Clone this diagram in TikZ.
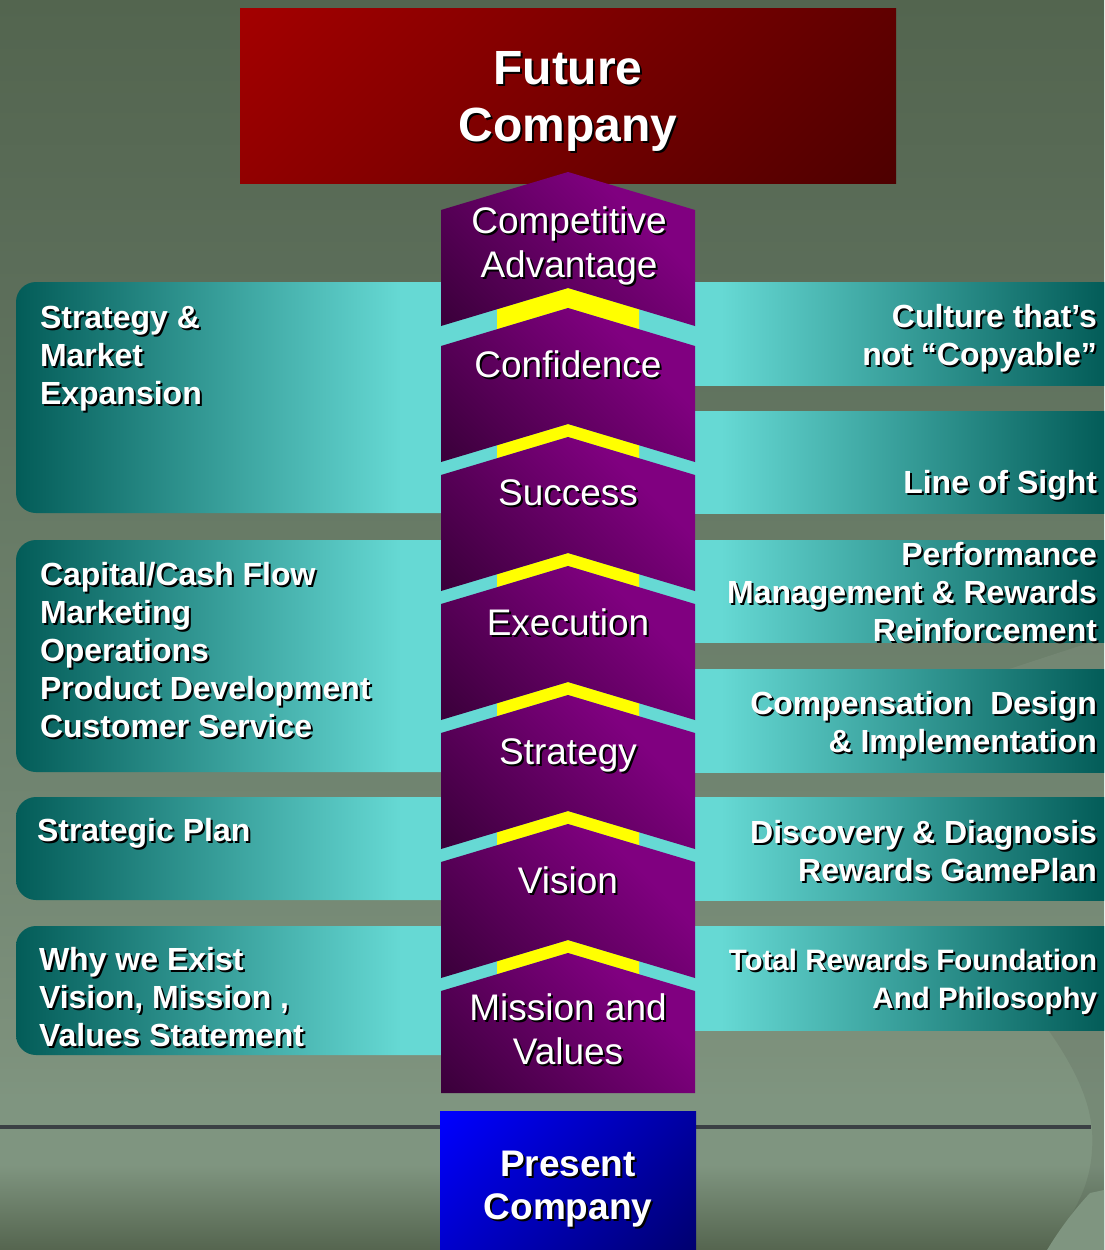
\documentclass[tikz,border=0pt]{standalone}
\usepackage{fontspec}
\setmainfont{Liberation Sans}

% palette
\definecolor{bgTop}{HTML}{53654F}
\definecolor{bgF}{HTML}{5C6E5A}
\definecolor{bgE}{HTML}{687B66}
\definecolor{bgD}{HTML}{708470}
\definecolor{bgC}{HTML}{7D917C}
\definecolor{bgLight}{HTML}{7F9580}
\definecolor{bgBot}{HTML}{55654F}
\definecolor{tealD}{HTML}{035C58}
\definecolor{tealL}{HTML}{66D9D4}
\definecolor{purD}{HTML}{3A003A}
\definecolor{purL}{HTML}{800080}
\definecolor{redD}{HTML}{4E0000}
\definecolor{redL}{HTML}{A30000}
\definecolor{bluD}{HTML}{000070}
\definecolor{bluL}{HTML}{0000FF}
\definecolor{yellowC}{HTML}{FFFF00}
\definecolor{lineC}{HTML}{3B4044}

% shadings (the path's bounding box spans 25bp..75bp)
\pgfdeclareverticalshading{bgsh}{100bp}{color(0bp)=(bgBot); color(25bp)=(bgBot); color(28.4bp)=(bgLight); color(31bp)=(bgLight); color(33bp)=(bgC); color(43.8bp)=(bgD); color(53.8bp)=(bgE); color(63.4bp)=(bgF); color(75bp)=(bgTop); color(100bp)=(bgTop)}
\pgfdeclareverticalshading{purpsh}{100bp}{color(0bp)=(purD); color(15bp)=(purD); color(68bp)=(purL); color(100bp)=(purL)}
\pgfdeclareverticalshading{redsh}{100bp}{color(0bp)=(redD); color(15bp)=(redD); color(85bp)=(redL); color(100bp)=(redL)}
\pgfdeclareverticalshading{bluesh}{100bp}{color(0bp)=(bluD); color(15bp)=(bluD); color(85bp)=(bluL); color(100bp)=(bluL)}
\pgfdeclarehorizontalshading{bandL}{100bp}{color(0bp)=(tealD); color(25bp)=(tealD); color(58bp)=(tealL); color(100bp)=(tealL)}
\pgfdeclarehorizontalshading{bandR}{100bp}{color(0bp)=(tealL); color(41bp)=(tealL); color(75bp)=(tealD); color(100bp)=(tealD)}

% white text with a black drop shadow
\newcommand\labelshadowed[4]{%
  \node[#2, text=black, xshift=2pt, yshift=-2pt] at #3 {#4};
  \node[#2, text=white] (#1) at #3 {#4};
}

\begin{document}
\begin{tikzpicture}[x=1pt, y=-1pt,
  every node/.style={inner sep=0pt, outer sep=0pt},
  bandtext/.style={font=\bfseries\fontsize{32}{38}\selectfont},
  lefttext/.style={bandtext, align=left, anchor=north west},
  righttext/.style={bandtext, align=right, anchor=north east},
  chevtext/.style={font=\fontsize{37}{44}\selectfont, align=center, anchor=north},
  leftband/.style={shade, shading=bandL, rounded corners=20pt},
  rightband/.style={shade, shading=bandR},
  block/.style={shade, shading=purpsh, shading angle=-45},
  stripe/.style={fill=yellowC}
]

% background
\path[shade, shading=bgsh] (0,0) rectangle (1104,1250);
\useasboundingbox (0,0) rectangle (1104,1250);
\clip (0,0) rectangle (1104,1250);

% background swooshes
\fill[black, opacity=0.07] (1030,1005) .. controls (1080,1070) and (1095,1110) .. (1092,1150)
  .. controls (1090,1190) and (1070,1220) .. (1047,1250) -- (1104,1250) -- (1104,1005) -- cycle;
\fill[bgLight] (1090,1193) .. controls (1072,1212) and (1058,1232) .. (1047,1250) -- (1104,1250) -- (1104,1190) -- cycle;
\fill[white, opacity=0.06] (1000,672) -- (1104,638) -- (1104,672) -- cycle;

% baseline rule
\coordinate (ruleL) at (0,1127);
\coordinate (ruleR) at (1091,1127);
\draw[lineC, line width=4pt] (ruleL) -- (ruleR);

% side bands
\foreach \t/\b in {282/513, 540/772, 797/900, 926/1055}
  \path[leftband] (16,\t) rectangle (600,\b);
\foreach \t/\b in {282/385, 411/513, 540/642, 669/772, 797/900, 926/1030}
  \path[rightband] (540,\t) rectangle (1104,\b);

% future company box
\path[shade, shading=redsh, shading angle=45] (240,8) rectangle (896,183);

% yellow joints between the chevrons
\foreach \c/\p in {288/308, 424/437, 553/566, 682/695, 811/824, 940/953}
  \fill[stripe] (497,\c+21.24) -- (568,\c) -- (639,\c+21.24) -- (639,\p+21.24) -- (568,\p) -- (497,\p+21.24) -- cycle;

% chevron stack
\foreach \p/\b in {172/326, 308/462, 437/591, 566/720, 695/849, 824/978}
  \path[block] (441,\p+38) -- (568,\p) -- (695,\p+38) -- (695,\b) -- (568,\b-38) -- (441,\b) -- cycle;
\path[block] (441,991) -- (568,953) -- (695,991) -- (695,1093) -- (441,1093) -- cycle;

% present company box
\path[shade, shading=bluesh, shading angle=45] (440,1111) rectangle (696,1250);

% titles
\labelshadowed{future}{font=\bfseries\fontsize{48}{57}\selectfont, align=center, anchor=north}{(568,51.5)}{Future\\Company}
\labelshadowed{present}{font=\bfseries\fontsize{37}{43}\selectfont, align=center, anchor=north}{(568,1151)}{Present\\Company}

% chevron labels
\labelshadowed{tCA}{chevtext}{(569,206.6)}{Competitive\\Advantage}
\labelshadowed{tConf}{chevtext}{(568,350.6)}{Confidence}
\labelshadowed{tSucc}{chevtext}{(568,479.6)}{Success}
\labelshadowed{tExec}{chevtext}{(568,609)}{Execution}
\labelshadowed{tStrat}{chevtext}{(568,738.6)}{Strategy}
\labelshadowed{tVis}{chevtext}{(568,867)}{Vision}
\labelshadowed{tMV}{chevtext}{(568,993.5)}{Mission and\\Values}

% left band labels
\labelshadowed{l1}{lefttext}{(40,306.5)}{Strategy \&\\Market\\Expansion}
\labelshadowed{l2}{lefttext}{(40,562.5)}{Capital/Cash Flow\\Marketing\\Operations\\Product Development\\Customer Service}
\labelshadowed{l3}{lefttext}{(37,818)}{Strategic Plan}
\labelshadowed{l4}{lefttext}{(39,947)}{Why we Exist\\Vision, Mission ,\\Values Statement}

% right band labels
\labelshadowed{r1}{righttext}{(1097,304.5)}{Culture that’s\\not “Copyable”}
\labelshadowed{r2}{righttext}{(1097,470.5)}{Line of Sight}
\labelshadowed{r3}{righttext}{(1097,542.5)}{Performance\\Management \& Rewards\\Reinforcement}
\labelshadowed{r4}{righttext}{(1097,691.5)}{Compensation\ \ Design\\\& Implementation}
\labelshadowed{r5}{righttext}{(1097,820)}{Discovery \& Diagnosis\\Rewards GamePlan}
\labelshadowed{r6}{righttext, font=\bfseries\fontsize{29.5}{38}\selectfont}{(1097,949)}{Total Rewards Foundation\\And Philosophy}

\end{tikzpicture}
\end{document}
